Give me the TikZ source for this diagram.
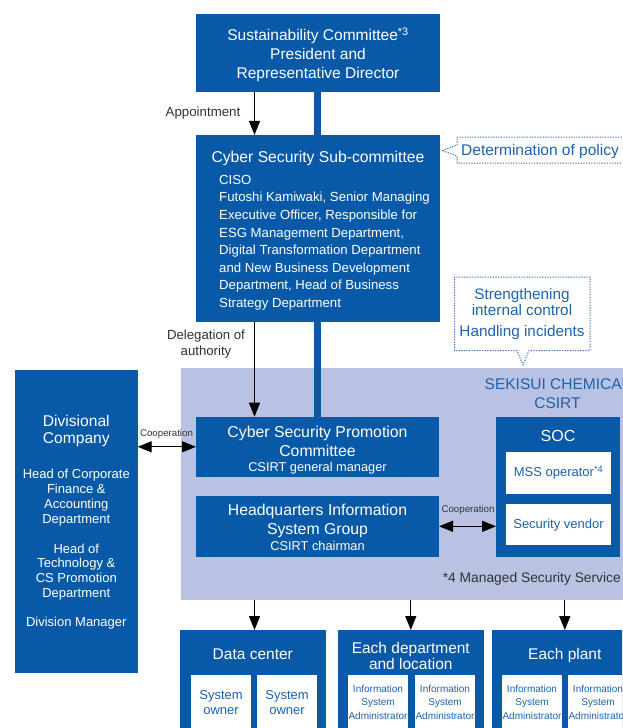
\documentclass[tikz,border=0pt]{standalone}
\usepackage{fontspec}
\setmainfont{Liberation Sans}
\usetikzlibrary{arrows.meta}
\definecolor{cblue}{RGB}{8,89,167}
\definecolor{clight}{RGB}{185,194,226}
\definecolor{ctext}{RGB}{28,99,176}
\definecolor{cdot}{RGB}{60,120,192}
\definecolor{cgray}{RGB}{50,50,50}
\newcommand\fsz[2]{\fontsize{#1}{#2}\selectfont}
\pgfdeclarelayer{back}
\pgfsetlayers{back,main}
\begin{document}
\begin{tikzpicture}[x=1pt,y=-1pt,
  bbox/.style={fill=cblue,draw=none,inner sep=0pt,outer sep=0pt},
  wbox/.style={fill=white,draw=none,inner sep=0pt,outer sep=0pt},
  wt/.style={text=white,inner sep=0pt,align=center},
  bt/.style={text=ctext,inner sep=0pt,align=center},
  gt/.style={text=cgray,inner sep=0pt,align=center},
  arr/.style={-{Triangle[length=14pt,width=11pt]},line width=1.3pt,black},
  darr/.style={{Triangle[length=14pt,width=11pt]}-{Triangle[length=14pt,width=11pt]},line width=1.3pt,black},
  bar/.style={draw=cblue,line width=7pt},
  callout/.style={draw=cdot,line width=1pt,dash pattern=on 1.3pt off 1.3pt}
]
\useasboundingbox (0,0) rectangle (622,728);
\clip (0,0) rectangle (622,728);
\coordinate (ax) at (254.5,0);
\coordinate (bx) at (317.7,0);

% top box
\node[bbox,minimum width=244,minimum height=78] (top) at (318,53) {};
\node[wt,font=\fsz{15.5}{18.6}] (toptxt) at (318,54.8) {Sustainability Committee\textsuperscript{*3}\\President and\\Representative Director};

% sub-committee
\node[bbox,minimum width=244,minimum height=186.7] (sub) at (318,228.3) {};
\node[wt,font=\fsz{15.7}{18}] (subt) at (318,158.3) {Cyber Security Sub-committee};
\node[wt,align=left,anchor=west,font=\fsz{13.2}{17.65}] (subb) at (219,242.6) {CISO\\Futoshi Kamiwaki, Senior Managing\\Executive Officer, Responsible for\\ESG Management Department,\\Digital Transformation Department\\and New Business Development\\Department, Head of Business\\Strategy Department};

% promotion committee
\node[bbox,minimum width=243,minimum height=60.3] (promo) at (317.5,446.8) {};
\node[wt,font=\fsz{15.8}{18.2}] (promot) at (317.5,441.3) {Cyber Security Promotion\\Committee};
\node[wt,font=\fsz{12.8}{15}] (promos) at (317.5,467.7) {CSIRT general manager};

% HQ
\node[bbox,minimum width=243,minimum height=60.7] (hq) at (317.5,526.3) {};
\node[wt,font=\fsz{15.8}{18.6}] (hqt) at (317.5,520.8) {Headquarters Information\\System Group};
\node[wt,font=\fsz{12.8}{15}] (hqs) at (317.5,545.6) {CSIRT chairman};

% light background (CSIRT) and bar, behind the boxes
\begin{pgfonlayer}{back}
\node[fill=clight,draw=none,inner sep=0pt,anchor=north west,minimum width=460,minimum height=232] (bg) at (181,367.5) {};
\draw[bar] (bx |- top.south) -- (bx |- promo.north);
\end{pgfonlayer}

% CSIRT label
\node[bt,font=\fsz{15.5}{19}] (csirt) at (557.5,393.6) {SEKISUI CHEMICAL\\CSIRT};

% SOC
\node[bbox,minimum width=124,minimum height=140.3] (soc) at (558,487.2) {};
\node[wt,font=\fsz{16}{18}] (soct) at (558,436.2) {SOC};
\node[wbox,minimum width=105,minimum height=41.7] (mss) at (558.5,472.8) {};
\node[bt,font=\fsz{13}{15}] (msst) at (558.5,473) {MSS operator\textsuperscript{*4}};
\node[wbox,minimum width=105,minimum height=41.3] (vend) at (558.5,524.7) {};
\node[bt,font=\fsz{13}{15}] (vendt) at (558.5,525.5) {Security vendor};

\node[gt,anchor=east,font=\fsz{13.8}{15}] (note) at (621,579.3) {*4 Managed Security Service};

% divisional company
\node[bbox,minimum width=122.7,minimum height=302.7] (div) at (76.3,521.3) {};
\node[wt,font=\fsz{15.6}{16.2}] (div1) at (76.3,431) {Divisional\\Company};
\node[wt,font=\fsz{13}{15}] (div2) at (76.3,498) {Head of Corporate\\Finance \&\\Accounting\\Department};
\node[wt,font=\fsz{13}{14.6}] (div3) at (76.3,571.8) {Head of\\Technology \&\\CS Promotion\\Department};
\node[wt,font=\fsz{13}{15}] (div4) at (76.3,623.3) {Division Manager};

% bottom boxes
\node[bbox,minimum width=145.7,minimum height=110] (dc) at (252.8,685) {};
\node[bbox,minimum width=145.7,minimum height=110] (dept) at (410.8,685) {};
\node[bbox,minimum width=145.7,minimum height=110] (plant) at (564.8,685) {};
\node[wt,font=\fsz{15.5}{16}] (dct) at (252.8,654.3) {Data center};
\node[wt,font=\fsz{15.5}{15.8}] (deptt) at (410.8,655.6) {Each department\\and location};
\node[wt,font=\fsz{15.5}{16}] (plantt) at (564.8,655.3) {Each plant};
\foreach \nm/\cx in {dc1/221, dc2/287, de1/378, de2/445, pl1/532, pl2/598}{
  \node[wbox,minimum width=60,minimum height=65] (\nm) at (\cx,707.5) {};
}
\coordinate (ty1) at (0,702.3);
\coordinate (ty2) at (0,702.4);
\node[bt,font=\fsz{13}{15.4}] (dc1t) at (dc1 |- ty1) {System\\owner};
\node[bt,font=\fsz{13}{15.4}] (dc2t) at (dc2 |- ty1) {System\\owner};
\foreach \nm in {de1,de2,pl1,pl2}{
  \node[bt,font=\fsz{10}{13.8}] (\nm t) at (\nm |- ty2) {Information\\System\\Administrator};
}

% callouts
\draw[callout] (640,137) -- (457,137) -- (457,145) -- (442,150.5) -- (457,156) -- (457,163) -- (640,163);
\node[bt,anchor=west,font=\fsz{15.5}{17}] (pol) at (461,151.5) {Determination of policy};
\draw[callout] (517,350.5) -- (454.5,350.5) -- (454.5,277) -- (590,277) -- (590,350.5) -- (529,350.5) -- (523,365) -- cycle;
\node[bt,font=\fsz{15.3}{15.2}] (str1) at (522,302) {Strengthening\\internal control};
\node[bt,font=\fsz{15.3}{16}] (str2) at (522,333) {Handling incidents};

% arrows
\draw[arr] (ax |- top.south) -- (ax |- sub.north);
\node[gt,font=\fsz{13.3}{15}] (appt) at (203,113) {Appointment};
\draw[arr] (ax |- sub.south) -- (ax |- promo.north);
\node[gt,font=\fsz{13.2}{16}] (dele) at (206,344.3) {Delegation of\\authority};
\draw[darr] (div.east |- promo.west) -- (promo.west);
\node[gt,font=\fsz{9.7}{11}] (coop1) at (166.5,434) {Cooperation};
\draw[darr] (hq.east) -- (hq.east -| soc.west);
\node[gt,font=\fsz{9.7}{11}] (coop2) at (468,510) {Cooperation};
\draw[arr] (ax |- bg.south) -- (ax |- dc.north);
\draw[arr] (dept.north |- bg.south) -- (dept.north);
\draw[arr] (plant.north |- bg.south) -- (plant.north);
\end{tikzpicture}
\end{document}
